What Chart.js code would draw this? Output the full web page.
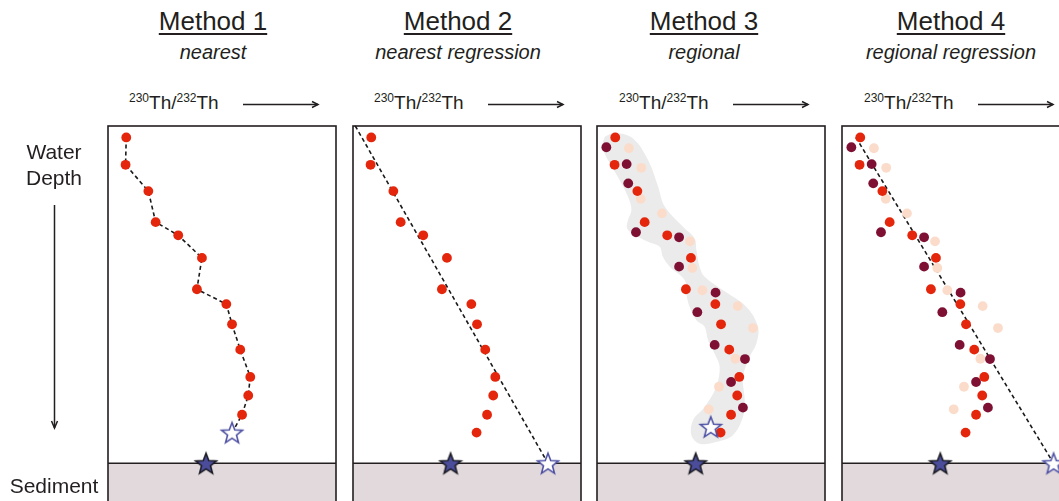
<!DOCTYPE html>
<html>
<head>
<meta charset="utf-8">
<script src="https://cdn.jsdelivr.net/npm/chart.js@4.4.1/dist/chart.umd.min.js"></script>
<style>
  html, body { margin: 0; padding: 0; background: #fff; }
  #wrap { position: relative; width: 1059px; height: 501px; overflow: hidden; font-family: "Liberation Sans", Arial, sans-serif; color: #231f20; }
  #wrap canvas { position: absolute; }
  .title { position: absolute; width: 240px; text-align: center; font-size: 26px; text-decoration: underline; text-decoration-thickness: 1.5px; text-underline-offset: 3px; }
  .sub { position: absolute; width: 240px; text-align: center; font-size: 20px; font-style: italic; }
  .ratio { position: absolute; font-size: 19px; white-space: nowrap; }
  .ratio sup { font-size: 12px; vertical-align: 0; position: relative; top: -7px; }
  .side { position: absolute; font-size: 21px; text-align: center; line-height: 26px; }
  svg { position: absolute; left: 0; top: 0; }
</style>
</head>
<body>
<div id="wrap"></div>
<script>
// x = 230Th/232Th (relative units 0-10), y = water depth (0 top, 10 = sediment surface)
const methodTitles = ["Method 1", "Method 2", "Method 3", "Method 4"];
const methodNames = ["nearest", "nearest regression", "regional", "regional regression"];

// nearest profile (red)
const nearX = [0.80, 0.77, 1.77, 2.09, 3.08, 4.12, 3.90, 5.19, 5.44, 5.80, 6.24, 6.15, 5.88, 5.42];
const nearY = [0.34, 1.15, 1.93, 2.85, 3.24, 3.91, 4.84, 5.28, 5.88, 6.63, 7.44, 7.99, 8.56, 9.09];

// other profiles of the region
const darkX = [0.41, 1.30, 1.37, 1.71, 3.60, 3.60, 5.20, 4.40, 5.16, 6.49, 5.88, 6.40];
const darkY = [0.63, 1.13, 1.70, 3.15, 3.30, 4.17, 4.94, 5.52, 6.49, 6.91, 7.59, 8.35];
const paleX = [1.40, 1.94, 1.92, 2.85, 4.08, 4.18, 4.62, 6.17, 6.84, 6.07, 5.35, 4.90];
const paleY = [0.66, 1.24, 2.16, 2.59, 3.42, 4.21, 4.87, 5.34, 5.99, 6.90, 7.73, 8.40];

// region envelope (method 3)
const blobX = [0.34, 0.77, 1.58, 2.24, 2.68, 2.97, 3.77, 4.28, 4.36, 4.50, 4.72, 5.53, 6.55, 7.06, 6.99, 6.70, 6.40, 6.48, 6.40, 5.96, 5.23, 4.50, 4.14, 4.21, 4.72, 5.23, 5.38, 5.16, 4.87, 4.72, 4.36, 4.06, 3.92, 3.85, 3.19, 2.89, 2.75, 2.24, 1.65, 1.32, 1.36, 1.51, 1.36, 0.99, 0.48, 0.23, 0.34];
const blobY = [0.32, 0.20, 0.37, 1.01, 1.80, 2.39, 2.99, 3.33, 3.68, 4.17, 4.47, 4.87, 5.36, 5.95, 6.45, 6.84, 7.44, 8.13, 8.63, 9.17, 9.37, 9.42, 9.17, 8.72, 8.33, 7.73, 7.14, 6.75, 6.35, 5.95, 5.76, 5.36, 4.97, 4.57, 4.17, 3.88, 3.58, 3.43, 3.23, 3.04, 2.79, 2.49, 2.10, 1.60, 1.01, 0.61, 0.32];

// regression lines
const reg2X = [0.10, 8.55];
const reg2Y = [0.00, 10.0];
const reg4X = [0.61, 9.28];
const reg4Y = [0.34, 10.0];

// true sediment value (filled star) and estimate (open star) per method
const trueX = [4.30, 4.28, 4.33, 4.31];
const trueY = [10, 10, 10, 10];
const estX = [5.44, 8.55, 4.99, 9.28];
const estY = [9.09, 10, 8.92, 10];

const RED = "#e3260c", DARK = "#7e1034", PALE = "#fbdccb";
const PANEL_LEFT = [108, 353, 597, 842];
const PX_X = 22.8, PX_Y = 33.73;

const pts = (xs, ys) => xs.map((x, i) => ({ x: x, y: ys[i] }));

function starImage(fill, stroke, lw) {
    const c = document.createElement("canvas");
    c.width = 26; c.height = 26;
    const g = c.getContext("2d");
    g.beginPath();
    for (let i = 0; i < 10; i++) {
        const r = i % 2 === 0 ? 11 : 4.7;
        const a = -Math.PI / 2 + i * Math.PI / 5;
        const px = 13 + r * Math.cos(a), py = 14 + r * Math.sin(a);
        i === 0 ? g.moveTo(px, py) : g.lineTo(px, py);
    }
    g.closePath();
    g.fillStyle = fill; g.fill();
    g.lineJoin = "miter"; g.lineWidth = lw; g.strokeStyle = stroke; g.stroke();
    return c;
}
const fullStar = starImage("#4b4d9b", "#1b1b24", 1.6);
const openStar = starImage("#ffffff", "#4e51a3", 1.6);

// frame + sediment layer
const framePlugin = {
    id: "frame",
    beforeDatasetsDraw(chart) {
        const { ctx, chartArea: a, scales } = chart;
        const ys = scales.y.getPixelForValue(10);
        ctx.save();
        ctx.fillStyle = "#e1d9db";
        ctx.fillRect(a.left, ys, a.right - a.left, a.bottom - ys);
        ctx.strokeStyle = "#231f20";
        ctx.lineWidth = 1.6;
        ctx.strokeRect(a.left, a.top, a.right - a.left, a.bottom - a.top);
        ctx.beginPath();
        ctx.moveTo(a.left, ys); ctx.lineTo(a.right, ys);
        ctx.stroke();
        ctx.restore();
    }
};

function dots(xs, ys, color, order) {
    return { data: pts(xs, ys), backgroundColor: color, pointRadius: 4.9, pointBorderWidth: 0, pointHoverRadius: 4.9, showLine: false, order: order };
}
function dashed(xs, ys) {
    return { data: pts(xs, ys), showLine: true, borderColor: "#1a1a1a", borderWidth: 1.6, borderDash: [4, 3], pointRadius: 0, fill: false, order: 8 };
}
function stars(i) {
    return [
        { data: pts([trueX[i]], [trueY[i]]), pointStyle: fullStar, pointRadius: 11, order: 0 },
        { data: pts([estX[i]], [estY[i]]), pointStyle: openStar, pointRadius: 11, order: 0 }
    ];
}

const wrap = document.getElementById("wrap");

function makePanel(i, datasets) {
    const canvas = document.createElement("canvas");
    canvas.width = 238; canvas.height = 400;
    canvas.style.left = (PANEL_LEFT[i] - 5) + "px";
    canvas.style.top = "121px";
    wrap.appendChild(canvas);
    new Chart(canvas, {
        type: "scatter",
        data: { datasets: datasets.map(d => Object.assign({ clip: false }, d)) },
        options: {
            responsive: false,
            animation: false,
            events: [],
            layout: { autoPadding: false, padding: { left: 5, right: 5, top: 5, bottom: 0 } },
            scales: {
                x: { type: "linear", min: 0, max: 228 / PX_X, display: false },
                y: { type: "linear", min: 0, max: 395 / PX_Y, reverse: true, display: false }
            },
            plugins: { legend: { display: false }, tooltip: { enabled: false } }
        },
        plugins: [framePlugin]
    });
}

// Method 1: connect the nearest profile down to the estimate
makePanel(0, [
    ...stars(0),
    dots(nearX.slice(0, 13), nearY.slice(0, 13), RED, 1),
    dashed(nearX.slice(0, 13).concat([estX[0]]), nearY.slice(0, 13).concat([estY[0]]))
]);
// Method 2
makePanel(1, [...stars(1), dots(nearX, nearY, RED, 1), dashed(reg2X, reg2Y)]);
// Method 3
makePanel(2, [
    ...stars(2),
    dots(nearX, nearY, RED, 1),
    dots(darkX, darkY, DARK, 2),
    dots(paleX, paleY, PALE, 3),
    { data: pts(blobX, blobY), showLine: true, fill: "shape", backgroundColor: "#ebebeb", borderWidth: 0, borderColor: "#ebebeb", pointRadius: 0, tension: 0.35, order: 10 }
]);
// Method 4
makePanel(3, [
    ...stars(3),
    dots(nearX, nearY, RED, 1),
    dots(darkX, darkY, DARK, 2),
    dots(paleX, paleY, PALE, 3),
    dashed(reg4X, reg4Y)
]);

// titles and labels
const centers = [213, 458, 704, 951];
let svg = '<svg width="1059" height="501" xmlns="http://www.w3.org/2000/svg" fill="none" stroke="#231f20" stroke-width="1.5">';
centers.forEach((cx, i) => {
    wrap.insertAdjacentHTML("beforeend",
        `<div class="title" style="left:${cx - 120}px;top:6px">${methodTitles[i]}</div>` +
        `<div class="sub" style="left:${cx - 120}px;top:41px">${methodNames[i]}</div>` +
        `<div class="ratio" style="left:${129 + 245 * i}px;top:92px"><sup>230</sup>Th/<sup>232</sup>Th</div>`);
    const x0 = 243 + 245 * i, x1 = x0 + 75;
    svg += `<line x1="${x0}" y1="104.5" x2="${x1}" y2="104.5"/><path d="M${x1 - 6} 101.5 L${x1} 104.5 L${x1 - 6} 107.5"/>`;
});
svg += '<line x1="54.5" y1="205" x2="54.5" y2="428"/><path d="M51.5 421 L54.5 428 L57.5 421"/></svg>';
wrap.insertAdjacentHTML("beforeend", svg);
wrap.insertAdjacentHTML("beforeend",
    '<div class="side" style="left:0;top:139px;width:108px">Water<br>Depth</div>' +
    '<div class="side" style="left:0;top:473px;width:108px">Sediment</div>');
</script>
</body>
</html>
